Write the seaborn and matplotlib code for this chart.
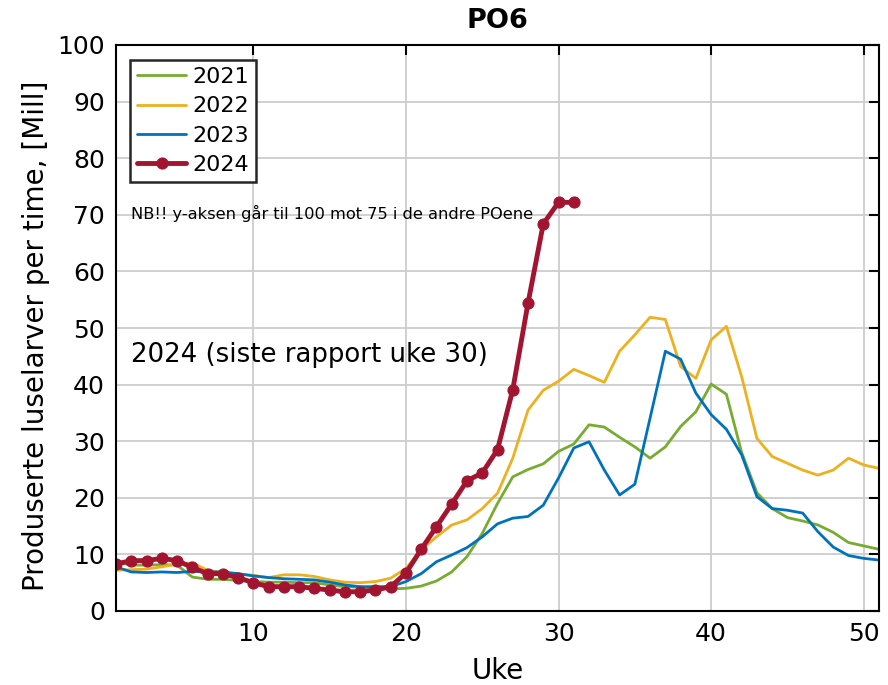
import numpy as np
import pandas as pd
import matplotlib
matplotlib.use("Agg")
import matplotlib.pyplot as plt
import seaborn as sns

weeks = list(range(1, 52))
y2021 = [8.7, 8.1, 8.1, 8.2, 8.1, 6.0, 5.6, 5.6, 5.4, 5.2,
         5.1, 5.1, 5.0, 5.0, 4.6, 4.3, 4.2, 4.0, 3.9, 4.0,
         4.4, 5.3, 6.9, 9.6, 13.7, 19.0, 23.7, 25.0, 26.0, 28.2,
         29.5, 32.9, 32.5, 30.7, 29.0, 27.0, 29.0, 32.6, 35.2, 40.1,
         38.3, 28.0, 20.9, 18.1, 16.5, 15.9, 15.2, 13.9, 12.1, 11.5, 10.9]
y2022 = [7.2, 7.3, 7.4, 7.8, 8.3, 8.5, 7.2, 6.8, 6.5, 6.3,
         5.9, 6.4, 6.4, 6.1, 5.5, 5.1, 5.0, 5.2, 5.8, 7.5,
         10.8, 13.1, 15.2, 16.1, 18.1, 20.8, 27.0, 35.5, 39.0, 40.6,
         42.7, 41.6, 40.4, 45.9, 48.8, 51.9, 51.5, 43.2, 41.1, 47.9,
         50.3, 41.4, 30.5, 27.3, 26.1, 24.9, 24.0, 24.9, 27.0, 25.8, 25.2]
y2023 = [7.8, 6.9, 6.8, 6.9, 6.8, 7.0, 6.9, 6.9, 6.6, 6.2,
         5.9, 5.7, 5.6, 5.5, 5.1, 4.6, 4.3, 4.3, 4.3, 5.2,
         6.6, 8.7, 9.9, 11.2, 13.1, 15.4, 16.4, 16.7, 18.7, 23.5,
         28.8, 29.9, 24.9, 20.5, 22.4, 34.1, 45.9, 44.5, 38.5, 34.7,
         32.1, 27.6, 20.2, 18.1, 17.8, 17.3, 14.0, 11.3, 9.8, 9.3, 9.0]
weeks2024 = list(range(1, 32))
y2024 = [8.3, 8.9, 8.9, 9.3, 8.9, 7.7, 6.6, 6.6, 5.9, 5.0,
         4.3, 4.3, 4.3, 4.0, 3.7, 3.4, 3.4, 3.7, 4.3, 6.7,
         10.9, 14.9, 18.9, 23.0, 24.4, 28.5, 39.1, 54.4, 68.4, 72.2, 72.2]

series = [("2021", weeks, y2021, "#77AC30"),
          ("2022", weeks, y2022, "#EDB120"),
          ("2023", weeks, y2023, "#0072BD")]

sns.set_style("white")
plt.rcParams['font.family'] = ['DejaVu Sans']
plt.rcParams['text.color'] = 'black'
plt.rcParams['axes.labelcolor'] = 'black'
plt.rcParams['xtick.color'] = 'black'
plt.rcParams['ytick.color'] = 'black'

fig = plt.figure(figsize=(8.88, 6.85), dpi=100)
ax = fig.add_axes([116/888, 1-611/685, (879-116)/888, (611-45)/685])

for name, x, y, c in series:
    df = pd.DataFrame({"Uke": x, "v": y})
    sns.lineplot(data=df, x="Uke", y="v", ax=ax, color=c, linewidth=2.0, label=name)

df24 = pd.DataFrame({"Uke": weeks2024, "v": y2024})
sns.lineplot(data=df24, x="Uke", y="v", ax=ax, color="#A2142F", linewidth=3.5,
             marker="o", markersize=8, markeredgecolor="#A2142F", label="2024")

ax.set_xlim(1, 51)
ax.set_ylim(0, 100)
ax.set_xticks([10, 20, 30, 40, 50])
ax.set_yticks(np.arange(0, 101, 10))
ax.grid(True, color="#cdcdcd", linewidth=1.3)
ax.tick_params(direction="in", length=7, width=1.5, top=True, right=True,
               labelsize=18, colors="black", pad=8)
for s in ax.spines.values():
    s.set_color("black")
    s.set_linewidth(1.5)

ax.set_xlabel("Uke", fontsize=20, labelpad=8)
ax.set_ylabel("Produserte luselarver per time, [Mill]", fontsize=20)
ax.yaxis.set_label_coords(-0.086, 0.486)
ax.set_title("PO6", fontsize=19.5, fontweight="bold", pad=12)

ax.text(2, 70.3, "NB!! y-aksen går til 100 mot 75 i de andre POene", fontsize=11.7,
        va="center", ha="left")
ax.text(2, 45.3, "2024 (siste rapport uke 30)", fontsize=18.7, va="center", ha="left")

leg = ax.legend(loc="upper left", fontsize=16, frameon=True, fancybox=False,
                borderpad=0.3, labelspacing=0.42, handlelength=2.2,
                handletextpad=0.3, bbox_to_anchor=(0.019, 0.973), borderaxespad=0)
leg.get_frame().set_edgecolor("#262626")
leg.get_frame().set_linewidth(1.8)
leg.get_frame().set_alpha(1)

fig.savefig("out.png", dpi=100)
